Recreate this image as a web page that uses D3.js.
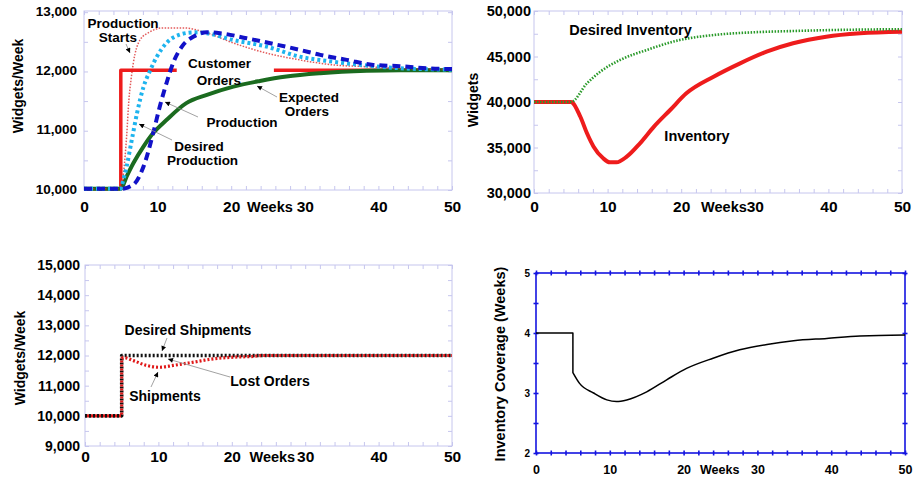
<!DOCTYPE html>
<html>
<head>
<meta charset="utf-8">
<script src="https://cdn.jsdelivr.net/npm/d3@7"></script>
<style>
  body { margin: 0; background: #fff; }
  svg { display: block; }
  text { font-family: "Liberation Sans", Arial, Helvetica, sans-serif; font-weight: bold; fill: #000; }
</style>
</head>
<body>
<svg id="chart" width="914" height="478"></svg>
<script>
// ---------- Shared axis values ----------
const weekTicks = [0, 10, 20, 30, 40, 50];

// ---------- Panel 1: production chain (widgets/week) ----------
const rateTicks = [10000, 11000, 12000, 13000];

const customerOrdersWeeks = [0, 5, 5, 50];
const customerOrders      = [10000, 10000, 12000, 12000];

const expectedOrdersWeeks = [0, 5, 5.8, 6.7, 8.1, 9.4, 11.2, 13.9, 16.7, 20.3, 23.9, 27.5, 32.1, 38.4, 43, 50];
const expectedOrders      = [10000, 10000, 10210, 10430, 10715, 10940, 11160, 11445, 11585, 11725, 11820, 11895, 11950, 11990, 12000, 12000];

const productionStartsWeeks = [0, 5, 5.4, 5.8, 6.1, 6.4, 6.7, 7.6, 9.0, 10.7, 13.5, 16.7, 20.3, 24.8, 29.3, 33.9, 38.4, 43, 50];
const productionStarts      = [10000, 10000, 10300, 10900, 11500, 11850, 12120, 12510, 12650, 12715, 12715, 12630, 12460, 12290, 12175, 12090, 12060, 12030, 12010];

const desiredProductionWeeks = [0, 5, 5.1, 5.8, 6.5, 7.2, 8.1, 9.0, 9.9, 11.2, 13.0, 14.9, 16.7, 20.3, 24.8, 29.3, 33.8, 38.4, 42.9, 50];
const desiredProduction      = [10000, 10000, 10040, 10380, 10830, 11275, 11725, 12000, 12230, 12460, 12600, 12640, 12625, 12510, 12400, 12230, 12145, 12080, 12035, 12010];

const productionWeeks = [0, 5, 6.7, 8.1, 9.4, 10.3, 11.2, 12.1, 13.3, 14.9, 16.7, 18.5, 22.1, 25.7, 29.3, 32.1, 35.7, 39.3, 42.9, 47, 50];
const production      = [10000, 10000, 10070, 10380, 10940, 11390, 11780, 12120, 12400, 12570, 12640, 12625, 12540, 12445, 12345, 12260, 12175, 12090, 12070, 12030, 12020];

// ---------- Panel 2: inventory (widgets) ----------
const stockTicks = [30000, 35000, 40000, 45000, 50000];

const desiredInventoryWeeks = [0, 5, 7.2, 9.0, 11.7, 15.3, 19.8, 24.4, 29.8, 35.2, 40.7, 50];
const desiredInventory      = [40000, 40000, 42050, 43330, 44620, 45710, 46810, 47360, 47660, 47800, 47910, 48000];

const inventoryWeeks = [0, 5, 6.3, 7.2, 8.1, 9.4, 10.3, 11.2, 12.6, 14.4, 16.3, 18.5, 20.7, 24.4, 28.0, 31.6, 35.2, 39.7, 44.3, 50];
const inventory      = [40000, 40000, 38380, 36560, 35090, 33810, 33370, 33370, 33990, 35460, 37290, 39120, 40950, 42780, 44250, 45530, 46450, 47180, 47550, 47720];

// ---------- Panel 3: shipments (widgets/week) ----------
const shipTicks = [9000, 10000, 11000, 12000, 13000, 14000, 15000];

const desiredShipmentsWeeks = [0, 5, 5, 50];
const desiredShipments      = [10000, 10000, 12000, 12000];

const shipmentsWeeks = [0, 5, 5, 5.3, 6.6, 8.4, 10.2, 12.0, 14.8, 17.5, 20.2, 22.9, 24.2, 50];
const shipments      = [10000, 10000, 11900, 11930, 11830, 11670, 11610, 11670, 11780, 11890, 11945, 11970, 12000, 12000];

// ---------- Panel 4: inventory coverage (weeks) ----------
const coverageTicks = [2, 3, 4, 5];

const coverageWeeks = [0, 5, 5, 5.9, 7.8, 9.6, 10.9, 12.3, 15.0, 17.7, 20.4, 24.0, 27.6, 31.3, 34.9, 39.4, 43.9, 50];
const coverage      = [4.0, 4.0, 3.34, 3.16, 3.0, 2.885, 2.857, 2.885, 3.02, 3.22, 3.41, 3.58, 3.72, 3.81, 3.87, 3.91, 3.95, 3.965];

// ---------- Drawing ----------
const svg = d3.select("#chart");

svg.append("defs").append("marker")
  .attr("id", "tip")
  .attr("viewBox", "0 0 10 10")
  .attr("refX", 10).attr("refY", 5)
  .attr("markerWidth", 6).attr("markerHeight", 5)
  .attr("markerUnits", "userSpaceOnUse")
  .attr("orient", "auto")
  .append("path").attr("d", "M0,0L10,5L0,10Z").attr("fill", "#000");

// Smooth path that keeps vertical jumps (repeated week values) sharp.
function seriesPath(x, y, xs, ys) {
  const pts = xs.map((w, i) => [x(w), y(ys[i])]);
  const pieces = [];
  let cur = [pts[0]];
  for (let i = 1; i < pts.length; i++) {
    if (xs[i] === xs[i - 1]) { pieces.push(cur); cur = [pts[i]]; }
    else cur.push(pts[i]);
  }
  pieces.push(cur);
  const gen = d3.line().curve(d3.curveMonotoneX);
  return pieces.map((p, i) => {
    const d = p.length > 1 ? gen(p) : `M${p[0][0]},${p[0][1]}`;
    return i ? "L" + d.slice(1) : d;
  }).join("");
}

function makePanel(o) {
  const g = svg.append("g");
  const x = d3.scaleLinear().domain([0, 50]).range([o.left, o.right]);
  const y = d3.scaleLinear().domain(o.yDomain).range([o.bottom, o.top]);
  const minorX = d3.range(0, 50.01, 2);
  const minorY = d3.range(o.yDomain[0], o.yDomain[1] + 1e-9, o.yStep);

  const tickLayer = g.append("g");
  const addTicks = (axis, tx, ty) => {
    const a = tickLayer.append("g").attr("transform", `translate(${tx},${ty})`).call(axis);
    a.select(".domain").remove();
    a.selectAll("line").attr("stroke", o.frame).attr("stroke-width", o.tickW);
    a.selectAll("text").remove();
    return a;
  };
  if (o.crossTicks) {
    [[d3.axisBottom(x), o.bottom], [d3.axisTop(x), o.top]].forEach(([ax, ty]) => {
      const a = addTicks(ax.tickValues(minorX).tickSizeOuter(0).tickSizeInner(o.tickLen), 0, ty);
      a.selectAll("line").attr("y1", -o.tickLen).attr("y2", o.tickLen);
    });
    [[d3.axisLeft(y), o.left], [d3.axisRight(y), o.right]].forEach(([ax, tx]) => {
      const a = addTicks(ax.tickValues(minorY).tickSizeOuter(0).tickSizeInner(o.tickLen), tx, 0);
      a.selectAll("line").attr("x1", -o.tickLen).attr("x2", o.tickLen);
    });
  } else {
    addTicks(d3.axisBottom(x).tickValues(minorX).tickSizeOuter(0).tickSizeInner(-o.tickLen), 0, o.bottom);
    addTicks(d3.axisTop(x).tickValues(minorX).tickSizeOuter(0).tickSizeInner(-o.tickLen), 0, o.top);
    addTicks(d3.axisLeft(y).tickValues(minorY).tickSizeOuter(0).tickSizeInner(-o.tickLen), o.left, 0);
    addTicks(d3.axisRight(y).tickValues(minorY).tickSizeOuter(0).tickSizeInner(-o.tickLen), o.right, 0);
  }

  g.append("rect")
    .attr("x", o.left).attr("y", o.top)
    .attr("width", o.right - o.left).attr("height", o.bottom - o.top)
    .attr("fill", "none").attr("stroke", o.frame).attr("stroke-width", o.frameW);

  // Week labels
  const xa = g.append("g").attr("transform", `translate(0,${o.bottom})`)
    .call(d3.axisBottom(x).tickValues(weekTicks).tickSize(0).tickFormat(d3.format("d")));
  xa.select(".domain").remove();
  xa.selectAll("text").attr("y", o.xLabelBase - o.bottom).attr("dy", 0)
    .style("font-size", o.xFont + "px").attr("fill", "#000");

  g.append("text")
    .attr("x", x(30) - o.weeksGap).attr("y", o.xLabelBase)
    .attr("text-anchor", "end").style("font-size", o.weeksFont + "px")
    .text("Weeks");

  // Value labels
  const ya = g.append("g").attr("transform", `translate(${o.left},0)`)
    .call(d3.axisLeft(y).tickValues(o.yTicks).tickSize(0).tickPadding(o.yPad).tickFormat(o.yFormat));
  ya.select(".domain").remove();
  ya.selectAll("text").style("font-size", o.yFont + "px").attr("fill", "#000");

  g.append("text")
    .attr("transform", `translate(${o.titleX},${o.titleY}) rotate(-90)`)
    .attr("text-anchor", "middle").attr("dy", "0.35em")
    .style("font-size", o.titleFont + "px")
    .text(o.title);

  return { g, x, y };
}

function drawSeries(p, xs, ys, style) {
  return p.g.append("path")
    .attr("d", seriesPath(p.x, p.y, xs, ys))
    .attr("fill", "none")
    .attr("stroke", style.color)
    .attr("stroke-width", style.width)
    .attr("stroke-dasharray", style.dash || null)
    .attr("stroke-dashoffset", style.offset || 0)
    .attr("stroke-linejoin", "round")
    .attr("stroke-linecap", "butt")
    .attr("opacity", style.opacity || 1);
}

function label(p, lines, cx, base, size, step) {
  lines.forEach((t, i) => {
    p.g.append("text")
      .attr("x", cx[i]).attr("y", base + i * step)
      .attr("text-anchor", "middle").style("font-size", size + "px")
      .text(t);
  });
}

function pointer(p, x1, y1, x2, y2) {
  p.g.append("line")
    .attr("x1", x1).attr("y1", y1).attr("x2", x2).attr("y2", y2)
    .attr("stroke", "#8a8a8a").attr("stroke-width", 0.8)
    .attr("marker-end", "url(#tip)");
}

const lightFrame = "#c6c6ee";
const commaFmt = d3.format(",");

// ----- Panel 1 -----
const p1 = makePanel({
  left: 84, right: 452, top: 11, bottom: 190, yDomain: [9980, 13000], yStep: 500,
  frame: lightFrame, frameW: 1, tickW: 1, tickLen: 4,
  xLabelBase: 212, xFont: 15.5, weeksGap: 12, weeksFont: 14.5,
  yTicks: rateTicks, yPad: 7, yFont: 13.5, yFormat: commaFmt,
  title: "Widgets/Week", titleX: 18, titleY: 86, titleFont: 14
});

drawSeries(p1, customerOrdersWeeks, customerOrders, { color: "#ee1c1c", width: 3.5 });
// blank band behind the "Customer Orders" label
p1.g.append("rect")
  .attr("x", p1.x(12.6)).attr("y", 56)
  .attr("width", p1.x(25.8) - p1.x(12.6)).attr("height", 34)
  .attr("fill", "#fff");
drawSeries(p1, expectedOrdersWeeks, expectedOrders, { color: "#1b6b1f", width: 4 });
drawSeries(p1, productionStartsWeeks, productionStarts, { color: "#d82020", width: 1.5, dash: "1.5,1.5", opacity: 0.75 });
drawSeries(p1, desiredProductionWeeks, desiredProduction, { color: "#1eb4ee", width: 4, dash: "3,3" });
drawSeries(p1, productionWeeks, production, { color: "#1212c8", width: 4, dash: "8,5" });

label(p1, ["Production", "Starts"], [123, 118], 28, 13.5, 14);
pointer(p1, 126, 44, 130, 53);
label(p1, ["Customer", "Orders"], [219.5, 219], 68, 13.5, 17);
label(p1, ["Production"], [242], 127, 13.5, 0);
pointer(p1, 198, 117, 165, 102);
label(p1, ["Desired", "Production"], [199, 202.5], 151, 13.5, 14);
pointer(p1, 172, 140, 139, 124);
label(p1, ["Expected", "Orders"], [309, 307], 102, 13.5, 14);
pointer(p1, 277, 97, 257, 86);

// ----- Panel 2 -----
const p2 = makePanel({
  left: 534, right: 902, top: 11, bottom: 193, yDomain: [30000, 50000], yStep: 2500,
  frame: lightFrame, frameW: 1, tickW: 1, tickLen: 4,
  xLabelBase: 212, xFont: 15.5, weeksGap: 8, weeksFont: 14.5,
  yTicks: stockTicks, yPad: 3, yFont: 14.5, yFormat: commaFmt,
  title: "Widgets", titleX: 473, titleY: 100, titleFont: 14
});

drawSeries(p2, inventoryWeeks, inventory, { color: "#ee1c1c", width: 4 });
drawSeries(p2, desiredInventoryWeeks, desiredInventory, { color: "#2a9a2a", width: 2.6, dash: "1.5,1.5" });
label(p2, ["Desired Inventory"], [630.5], 35, 14.5, 0);
label(p2, ["Inventory"], [697], 141, 14.5, 0);

// ----- Panel 3 -----
const p3 = makePanel({
  left: 85, right: 452, top: 265, bottom: 446, yDomain: [9000, 15000], yStep: 500,
  frame: lightFrame, frameW: 1, tickW: 1, tickLen: 4,
  xLabelBase: 462, xFont: 15.5, weeksGap: 10, weeksFont: 14.5,
  yTicks: shipTicks, yPad: 5, yFont: 14, yFormat: commaFmt,
  title: "Widgets/Week", titleX: 20, titleY: 358, titleFont: 14
});

drawSeries(p3, desiredShipmentsWeeks, desiredShipments, { color: "#111", width: 3.6, dash: "2,2" });
drawSeries(p3, shipmentsWeeks, shipments, { color: "#e01818", width: 3.2, dash: "2,2", offset: 2 });
label(p3, ["Desired Shipments"], [188], 335, 14, 0);
pointer(p3, 167, 338, 162, 351);
label(p3, ["Lost Orders"], [270], 386, 14, 0);
pointer(p3, 230, 377, 168, 359);
label(p3, ["Shipments"], [165], 401, 14, 0);
pointer(p3, 151, 387, 158, 372);

// ----- Panel 4 -----
const p4 = makePanel({
  left: 536, right: 905, top: 273, bottom: 453, yDomain: [2, 5], yStep: 0.5,
  frame: "#1414e0", frameW: 1.6, tickW: 1.6, tickLen: 2.5, crossTicks: true,
  xLabelBase: 474, xFont: 12.5, weeksGap: 18, weeksFont: 12.5,
  yTicks: coverageTicks, yPad: 6, yFont: 10, yFormat: d3.format("d"),
  title: "Inventory Coverage (Weeks)", titleX: 500, titleY: 364, titleFont: 14.5
});

drawSeries(p4, coverageWeeks, coverage, { color: "#000", width: 1.5 });
</script>
</body>
</html>
